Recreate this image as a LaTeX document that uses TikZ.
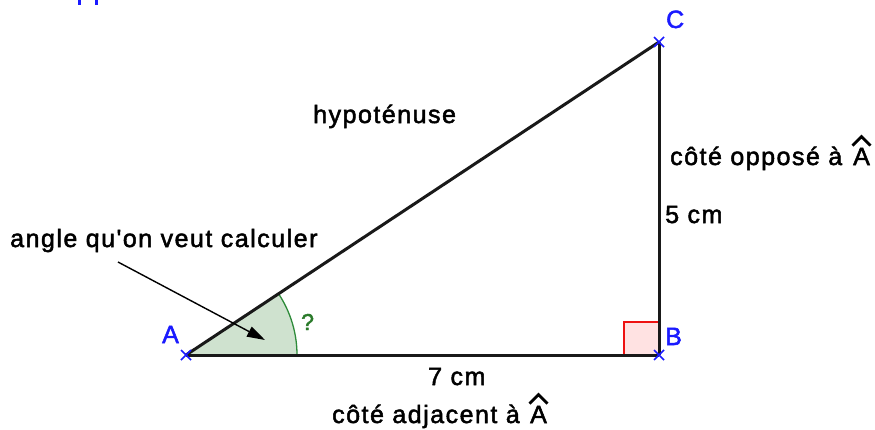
\documentclass[tikz,border=0pt]{standalone}
\usepackage{fontspec}
\setmainfont{Liberation Sans}[LetterSpace=6,FakeBold=2,Ligatures=TeXOff]
\usetikzlibrary{arrows.meta,calc}
\definecolor{ptblue}{HTML}{1A1AFF}
\definecolor{arcgreen}{HTML}{2E8B3A}
\definecolor{sectorfill}{HTML}{CFE2CF}
\definecolor{qgreen}{HTML}{2A7A2A}
\definecolor{sqfill}{HTML}{FFE2E2}
\definecolor{sqred}{HTML}{EE1111}
\tikzset{
  side/.style={line width=3pt, draw=black!90},
  lbl/.style={inner sep=0pt, anchor=base west, font=\fontsize{25}{28}\selectfont},
  ptlbl/.style={lbl, text=ptblue},
  cross/.style={draw=ptblue, line width=1.6pt},
  hat/.style={draw=black, line width=2.8pt, line join=miter},
  pointer/.style={draw=black, line width=1.4pt, -{Triangle[length=18pt,width=11pt]}},
}
\begin{document}
\begin{tikzpicture}[x=1pt,y=-1pt]
\useasboundingbox (0,0) rectangle (875,429);
\coordinate (A) at (186,355);
\coordinate (B) at (659,355);
\coordinate (C) at (659,42);
\coordinate (P) at (118,262);
\coordinate (T) at (265,340);
% cut-off blue text fragments at the top
\fill[ptblue] (78,0) rectangle (80.5,5);
\fill[ptblue] (95,0) rectangle (97.5,5);
% angle sector
\fill[sectorfill] (A) -- ++(0:111) arc[start angle=0, end angle=-33.5, radius=111] -- cycle;
\draw[arcgreen, line width=1.3pt] ($(A)+(0:111)$) arc[start angle=0, end angle=-33.5, radius=111];
% right angle mark
\fill[sqfill] (624,322) rectangle (659,355);
\draw[sqred, line width=1.2pt] (624,355) -- (624,322) -- (659,322);
% triangle sides
\draw[side] (A) -- (B);
\draw[side] (B) -- (C);
\draw[side] (A) -- (C);
% pointer arrow
\draw[pointer] (P) -- (T);
% crosses
\foreach \p in {A,B,C}{
  \draw[cross] ($(\p)+(-5,-5)$) -- ($(\p)+(5,5)$);
  \draw[cross] ($(\p)+(-5,5)$) -- ($(\p)+(5,-5)$);
}
% labels
\node[ptlbl] (la) at (162,343) {A};
\node[ptlbl] (lb) at (665,345) {B};
\node[ptlbl] (lc) at (666,28) {C};
\node[lbl, text=qgreen, font=\fontsize{23}{26}\selectfont] (q) at (301,330) {?};
\node[lbl] (hyp) at (313,123) {hypoténuse};
\node[lbl] (ang) at (10,247) {angle qu'on veut calculer};
\node[lbl] (opp) at (670,165) {côté opposé à};
\node[lbl] (oppA) at (853,165) {A};
\draw[hat] ($(oppA.north west)+(-0.5,-2)$) -- ($(oppA.north)+(0,-11)$) -- ($(oppA.north east)+(0.5,-2)$);
\node[lbl] (five) at (665,223) {5 cm};
\node[lbl] (seven) at (428,385) {7 cm};
\node[lbl] (adj) at (332,423) {côté adjacent à};
\node[lbl] (adjA) at (530,423) {A};
\draw[hat] ($(adjA.north west)+(-0.5,-2)$) -- ($(adjA.north)+(0,-11)$) -- ($(adjA.north east)+(0.5,-2)$);
\end{tikzpicture}
\end{document}
